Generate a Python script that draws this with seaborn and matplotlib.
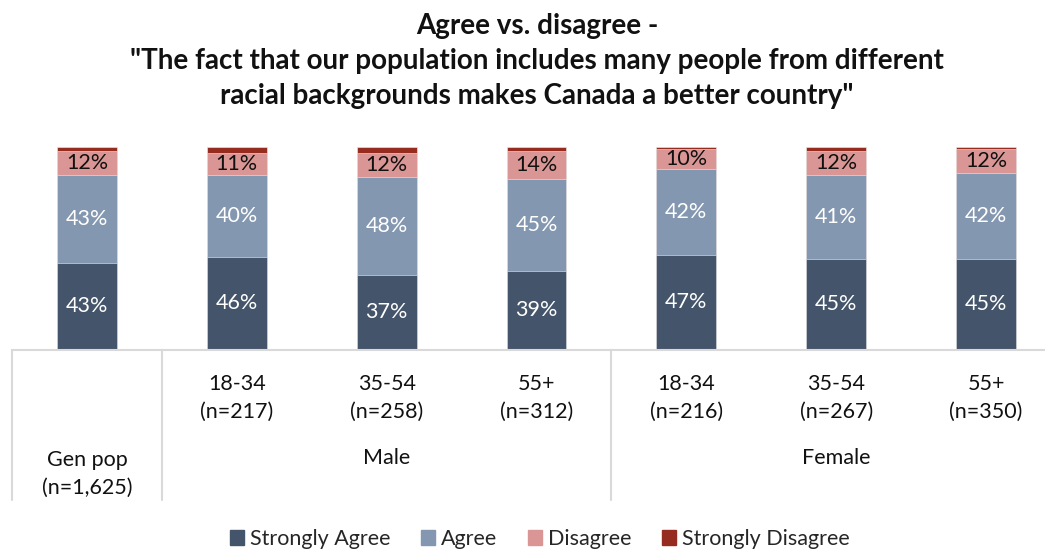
import matplotlib
matplotlib.use("Agg")
import matplotlib.pyplot as plt
import seaborn as sns
import pandas as pd
import numpy as np

# Survey groups
groups = ["Gen pop", "Male 18-34", "Male 35-54", "Male 55+",
          "Female 18-34", "Female 35-54", "Female 55+"]
age_labels = ["", "18-34\n(n=217)", "35-54\n(n=258)", "55+\n(n=312)",
              "18-34\n(n=216)", "35-54\n(n=267)", "55+\n(n=350)"]
genpop_label = "Gen pop\n(n=1,625)"
gender_labels = ["Male", "Female"]

# Response shares (%)
strongly_agree = [43, 46, 37, 39, 47, 45, 45]
agree = [43, 40, 48, 45, 42, 41, 42]
disagree = [12, 11, 12, 14, 10, 12, 12]
strongly_disagree = [2, 3, 3, 2, 1, 2, 1]

series_names = ["Strongly Agree", "Agree", "Disagree", "Strongly Disagree"]
series_values = [strongly_agree, agree, disagree, strongly_disagree]
colors = ["#44546A", "#8497B0", "#DA9694", "#962B20"]
label_colors = ["white", "white", "#111111", None]

title = ('Agree vs. disagree -\n'
         '"The fact that our population includes many people from different\n'
         'racial backgrounds makes Canada a better country"')

sns.set_style("white")
plt.rcParams["font.family"] = ["Lato", "DejaVu Sans"]

W, H = 1045, 550
fig = plt.figure(figsize=(W / 100, H / 100), dpi=100)
ax = fig.add_axes([12 / W, 1 - 350 / H, (W - 12) / W, 203 / H])

df = pd.DataFrame({"group": groups})
cum = np.zeros(len(groups))
cums = []
for vals in series_values:
    cum = cum + np.array(vals)
    cums.append(cum.copy())

# Stacked bars: draw cumulative totals from the top layer down
for i in range(len(series_names) - 1, -1, -1):
    df["total"] = cums[i]
    sns.barplot(data=df, x="group", y="total", order=groups, color=colors[i],
                saturation=1, width=0.4, ax=ax, errorbar=None,
                edgecolor="#eeeeee", linewidth=0.4)

# Value labels centred in segments
for i, vals in enumerate(series_values):
    if label_colors[i] is None:
        continue
    for j, v in enumerate(vals):
        bottom = cums[i][j] - v
        ax.text(j, bottom + v / 2, f"{v}%", ha="center", va="center",
                fontsize=15.5, color=label_colors[i])

ax.set_xlim(-0.5, (W - 86) / 150)
ax.set_ylim(0, 100)
ax.set_xlabel("")
ax.set_ylabel("")
ax.set_xticks([])
ax.set_yticks([])
for s in ["top", "right", "left"]:
    ax.spines[s].set_visible(False)
ax.spines["bottom"].set_color("#D9D9D9")
ax.spines["bottom"].set_linewidth(1.5)

# Category grid below the bars
tr = ax.get_xaxis_transform()
px = 1 / 203  # one pixel in axes-fraction units (vertical)
for xv in [-0.5, 0.5, 3.5]:
    ax.plot([xv, xv], [0, -150 * px], transform=tr, color="#D9D9D9",
            lw=1.5, clip_on=False)

for j, lab in enumerate(age_labels):
    if lab:
        ax.text(j, -48 * px, lab, transform=tr, ha="center", va="center",
                fontsize=15.5, linespacing=1.45, color="#111111")
ax.text(0, -124 * px, genpop_label, transform=tr, ha="center", va="center",
        fontsize=15.5, linespacing=1.5, color="#111111")
ax.text(2, -108 * px, gender_labels[0], transform=tr, ha="center",
        va="center", fontsize=15.5, color="#111111")
ax.text(5, -108 * px, gender_labels[1], transform=tr, ha="center",
        va="center", fontsize=15.5, color="#111111")

fig.text(537 / W, 1 - 61 / H, title, ha="center", va="center",
         fontsize=20, fontweight="bold", linespacing=1.45, color="#111111")

handles = [plt.Rectangle((0, 0), 1, 1, color=c) for c in colors]
fig.legend(handles, series_names, loc="center",
           bbox_to_anchor=(540 / W, 1 - 539 / H), ncol=4, frameon=False,
           fontsize=15.5, handlelength=0.65, handleheight=0.65,
           handletextpad=0.3, columnspacing=1.4)

fig.savefig("out.png", dpi=100)
